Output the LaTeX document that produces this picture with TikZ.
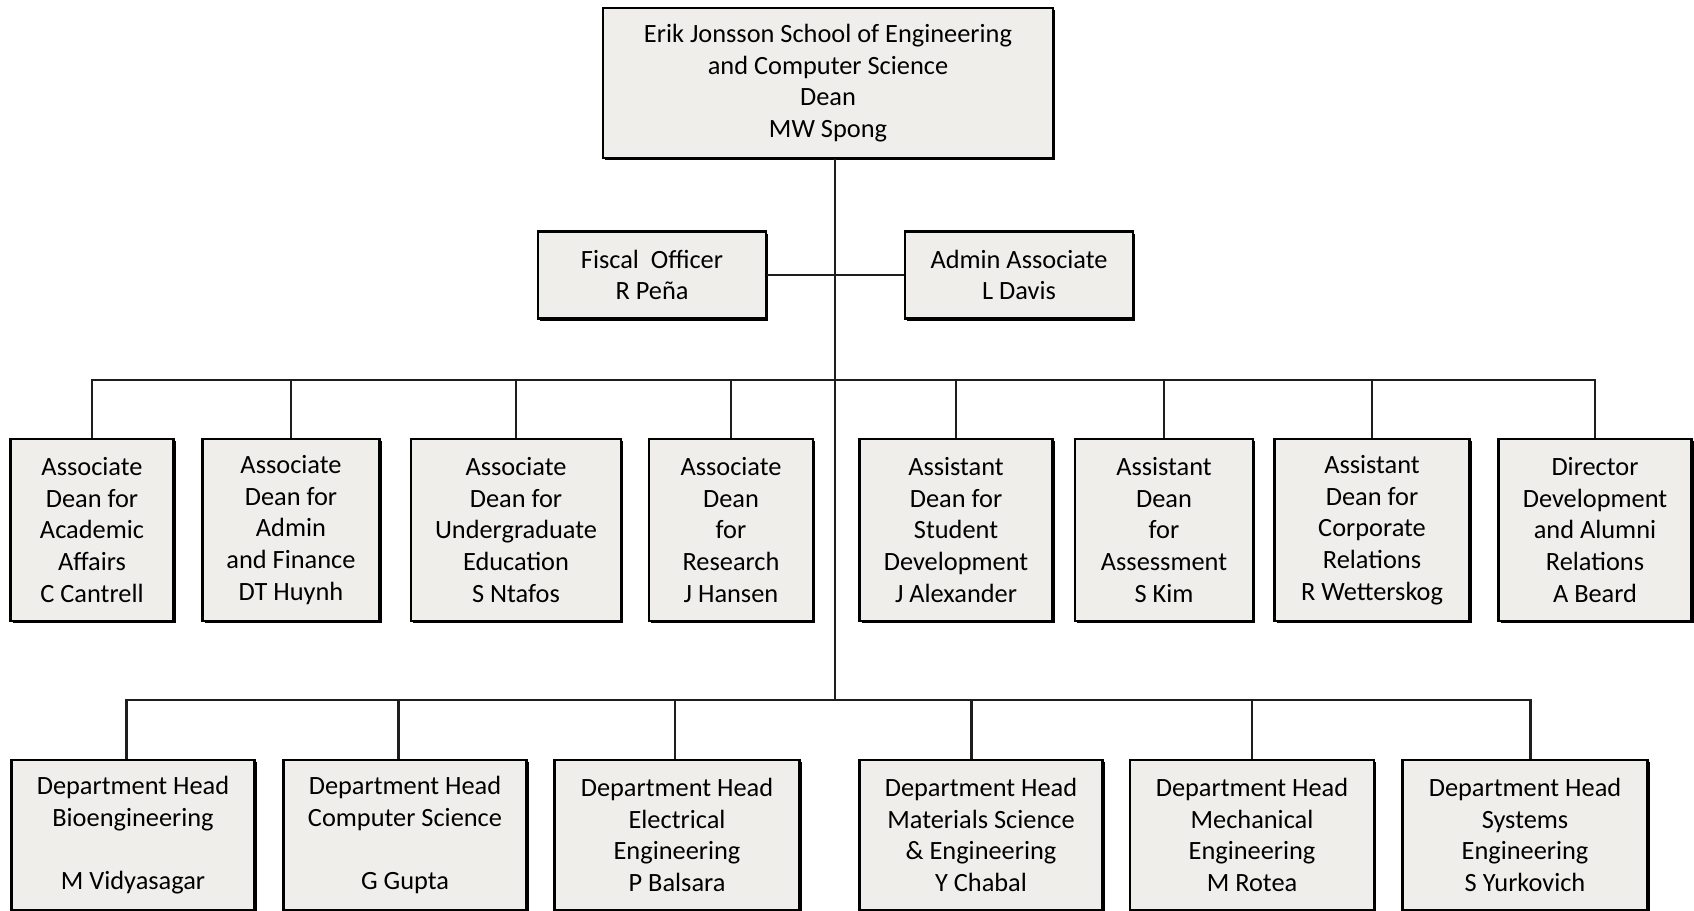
\documentclass[tikz,border=0pt]{standalone}
\usepackage{fontspec}
\setmainfont{Carlito}
\usepackage{tikz}
\usetikzlibrary{positioning,shadows}
\definecolor{boxgray}{RGB}{239,238,234}
\definecolor{linegray}{RGB}{30,30,30}
\tikzset{
  orgbox/.style={draw=black, line width=1.6pt, fill=boxgray, align=center,
      inner sep=0pt, font=\fontsize{15}{18}\selectfont, text=black,
      drop shadow={shadow xshift=1.2pt, shadow yshift=-1.2pt, fill=black, opacity=1}},
  orgline/.style={draw=linegray, line width=1.6pt}
}

\begin{document}
\begin{tikzpicture}[x=0.2mm, y=-0.2mm]
\useasboundingbox (0,0) rectangle (1694,910);
% dean and staff
\node[orgbox, minimum width=90mm, minimum height=30mm] (dean) at (828,83)
      {Erik Jonsson School of Engineering\\and Computer Science\\Dean\\MW Spong};
\node[orgbox, minimum width=45.6mm, minimum height=17.4mm] (fiscal) at (652,275)
      {Fiscal\ \ Officer\\R Peña};
\node[orgbox, minimum width=45.6mm, minimum height=17.4mm] (admin) at (1019,275)
      {Admin Associate\\L Davis};
% associate and assistant deans
\node[orgbox, minimum width=32.6mm, minimum height=36.4mm] (acad) at (92,530)
      {Associate\\Dean for\\Academic\\Affairs\\C Cantrell};
\node[orgbox, minimum width=35.4mm, minimum height=36.4mm] (finance) at (291,530)
      {Associate\\Dean for\\Admin\\and Finance\\DT Huynh};
\node[orgbox, minimum width=42mm, minimum height=36.4mm] (ugrad) at (516,530)
      {Associate\\Dean for\\Undergraduate\\Education\\S Ntafos};
\node[orgbox, minimum width=32.8mm, minimum height=36.4mm] (research) at (731,530)
      {Associate\\Dean\\for\\Research\\J Hansen};
\node[orgbox, minimum width=38.6mm, minimum height=36.4mm] (student) at (956,530)
      {Assistant\\Dean for\\Student\\Development\\J Alexander};
\node[orgbox, minimum width=35.6mm, minimum height=36.4mm] (assess) at (1164,530)
      {Assistant\\Dean\\for\\Assessment\\S Kim};
\node[orgbox, minimum width=39mm, minimum height=36.4mm] (corp) at (1372,530)
      {Assistant\\Dean for\\Corporate\\Relations\\R Wetterskog};
\node[orgbox, minimum width=38.6mm, minimum height=36.4mm] (alumni) at (1595,530)
      {Director\\Development\\and Alumni\\Relations\\A Beard};
% department heads
\node[orgbox, minimum width=48.6mm, minimum height=30mm] (bioe) at (133,835)
      {Department Head\\Bioengineering\\~\\M Vidyasagar};
\node[orgbox, minimum width=48.6mm, minimum height=30mm] (cs) at (405,835)
      {Department Head\\Computer Science\\~\\G Gupta};
\node[orgbox, minimum width=49mm, minimum height=30mm] (ee) at (677,835)
      {Department Head\\Electrical\\Engineering\\P Balsara};
\node[orgbox, minimum width=48.6mm, minimum height=30mm] (mse) at (981,835)
      {Department Head\\Materials Science\\\& Engineering\\Y Chabal};
\node[orgbox, minimum width=48.8mm, minimum height=30mm] (me) at (1252,835)
      {Department Head\\Mechanical\\Engineering\\M Rotea};
\node[orgbox, minimum width=49mm, minimum height=30mm] (se) at (1525,835)
      {Department Head\\Systems\\Engineering\\S Yurkovich};
% connectors
\coordinate (deanbus) at (835,380);
\coordinate (deptbus) at (835,700);
\draw[orgline] (dean.south -| deanbus) -- (deptbus);
\draw[orgline] (fiscal.east) -- (admin.west);
\draw[orgline] (acad.north) |- (deanbus) -| (alumni.north);
\foreach \n in {finance,ugrad,research,student,assess,corp}
  \draw[orgline] (\n.north) -- (\n.north |- deanbus);
\draw[orgline] ([xshift=-1.3mm]bioe.north) |- (deptbus) -| ([xshift=1.1mm]se.north);
\foreach \n/\dx in {cs/-1.3mm,ee/-0.4mm,mse/-1.9mm,me/0mm}
  \draw[orgline] ([xshift=\dx]\n.north) -- ([xshift=\dx]\n.north |- deptbus);
\end{tikzpicture}
\end{document}
